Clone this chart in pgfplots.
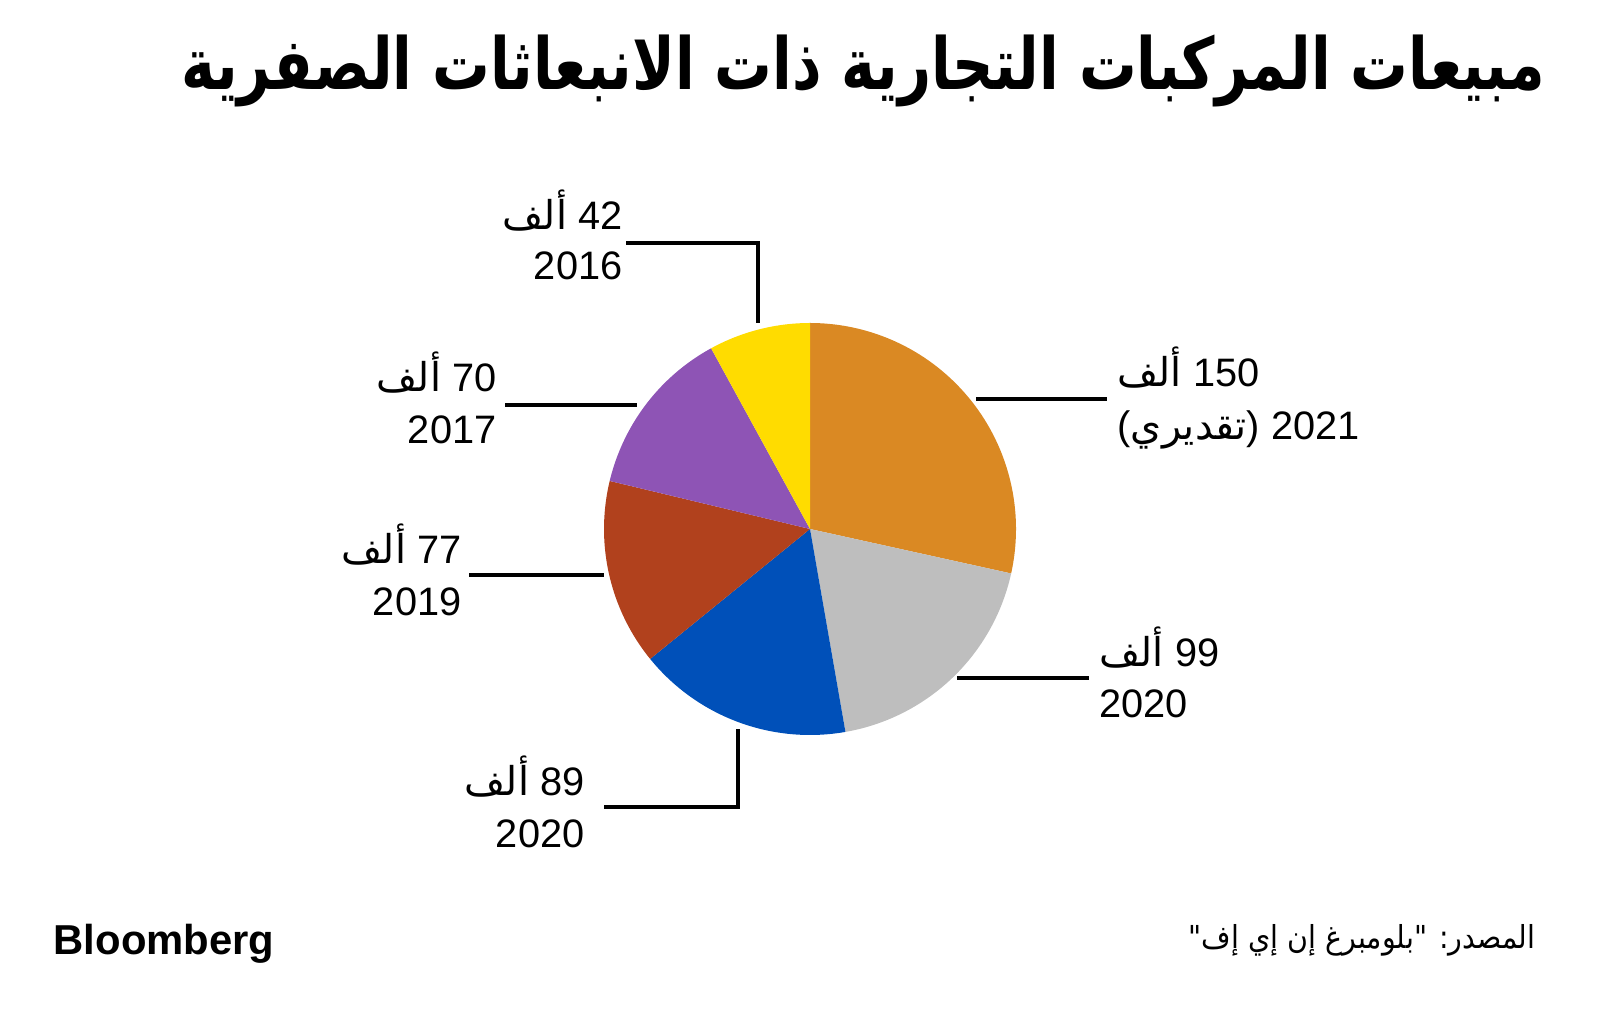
\documentclass[border=0pt]{standalone}
\usepackage{pgfplots}
\pgfplotsset{compat=1.18}
\usepackage{fontspec}
\usepackage{graphicx}
\setmainfont{Liberation Sans}
\newfontfamily\ar[Script=Arabic]{DejaVu Sans}
\TeXXeTstate=1
\definecolor{c21}{HTML}{DA8923}
\definecolor{c20a}{HTML}{BEBEBE}
\definecolor{c20b}{HTML}{0050B9}
\definecolor{c19}{HTML}{B1411D}
\definecolor{c17}{HTML}{8E54B5}
\definecolor{c16}{HTML}{FFDC00}
\newcommand\lab{\fontsize{11.3}{13}\selectfont}
\newcommand\alf{{\ar\beginR ألف\endR}}

\begin{document}
\begin{tikzpicture}
\useasboundingbox (0,0) rectangle (16cm,10.2cm);
% sales, thousands (clockwise from top)
\def\vA{150}\def\vB{99}\def\vC{89}\def\vD{77}\def\vE{70}\def\vF{42}
\pgfmathsetmacro\tot{\vA+\vB+\vC+\vD+\vE+\vF}
\pgfmathsetmacro\k{360/\tot}
\pgfmathsetmacro\aA{90}
\pgfmathsetmacro\aB{\aA-\k*\vA}
\pgfmathsetmacro\aC{\aB-\k*\vB}
\pgfmathsetmacro\aD{\aC-\k*\vC}
\pgfmathsetmacro\aE{\aD-\k*\vD}
\pgfmathsetmacro\aF{\aE-\k*\vE}
\pgfmathsetmacro\aG{\aF-\k*\vF}
\begin{axis}[at={(0,0)}, anchor=south west, scale only axis,
  width=16cm, height=10.2cm, xmin=0, xmax=1600, ymin=0, ymax=1020,
  y dir=reverse, hide axis, clip=false]
% pie slices
\addplot[fill=c21, draw=none, domain=\aB:\aA, samples=100] ({810+206*cos(x)},{529-206*sin(x)}) -- (axis cs:810,529) -- cycle;
\addplot[fill=c20a, draw=none, domain=\aC:\aB, samples=80] ({810+206*cos(x)},{529-206*sin(x)}) -- (axis cs:810,529) -- cycle;
\addplot[fill=c20b, draw=none, domain=\aD:\aC, samples=80] ({810+206*cos(x)},{529-206*sin(x)}) -- (axis cs:810,529) -- cycle;
\addplot[fill=c19, draw=none, domain=\aE:\aD, samples=80] ({810+206*cos(x)},{529-206*sin(x)}) -- (axis cs:810,529) -- cycle;
\addplot[fill=c17, draw=none, domain=\aF:\aE, samples=80] ({810+206*cos(x)},{529-206*sin(x)}) -- (axis cs:810,529) -- cycle;
\addplot[fill=c16, draw=none, domain=\aG:\aF, samples=60] ({810+206*cos(x)},{529-206*sin(x)}) -- (axis cs:810,529) -- cycle;

% leader lines
\addplot[black, line width=0.9pt] coordinates {(626,243) (758,243) (758,323)};
\addplot[black, line width=0.9pt] coordinates {(505,405) (637,405)};
\addplot[black, line width=0.9pt] coordinates {(469,575) (604,575)};
\addplot[black, line width=0.9pt] coordinates {(604,807) (738,807) (738,729)};
\addplot[black, line width=0.9pt] coordinates {(957,678) (1089,678)};
\addplot[black, line width=0.9pt] coordinates {(976,399) (1107,399)};

% labels
\node[anchor=base east, font=\lab, inner sep=0] at (axis cs:623,230) {\alf\ 42};
\node[anchor=base east, font=\lab, inner sep=0] at (axis cs:623,280) {2016};
\node[anchor=base east, font=\lab, inner sep=0] at (axis cs:497,392) {\alf\ 70};
\node[anchor=base east, font=\lab, inner sep=0] at (axis cs:497,444) {2017};
\node[anchor=base east, font=\lab, inner sep=0] at (axis cs:462,564) {\alf\ 77};
\node[anchor=base east, font=\lab, inner sep=0] at (axis cs:462,616) {2019};
\node[anchor=base east, font=\lab, inner sep=0] at (axis cs:585,796) {\alf\ 89};
\node[anchor=base east, font=\lab, inner sep=0] at (axis cs:585,848) {2020};
\node[anchor=base west, font=\lab, inner sep=0] at (axis cs:1099,667) {\alf\ 99};
\node[anchor=base west, font=\lab, inner sep=0] at (axis cs:1099,718) {2020};
\node[anchor=base west, font=\lab, inner sep=0] at (axis cs:1117,387) {\alf\ 150};
\node[anchor=base west, font=\lab, inner sep=0] at (axis cs:1117,440) {({\ar\beginR تقديري\endR}) 2021};

% title, logo and source
\node[anchor=base east, inner sep=0] at (axis cs:1546,90) {\scalebox{1}[1.25]{\resizebox{13.64cm}{!}{\ar\bfseries\fontsize{20}{24}\selectfont\beginR مبيعات المركبات التجارية ذات الانبعاثات الصفرية\endR}}};
\node[anchor=base west, inner sep=0, font=\bfseries\fontsize{11.9}{13}\selectfont] at (axis cs:53,954) {Bloomberg};
\node[anchor=base east, inner sep=0] at (axis cs:1536,948) {\scalebox{0.9}[1]{\ar\fontsize{9}{10}\selectfont\beginR المصدر: "بلومبرغ إن إي إف"\endR}};
\end{axis}
\end{tikzpicture}
\end{document}
